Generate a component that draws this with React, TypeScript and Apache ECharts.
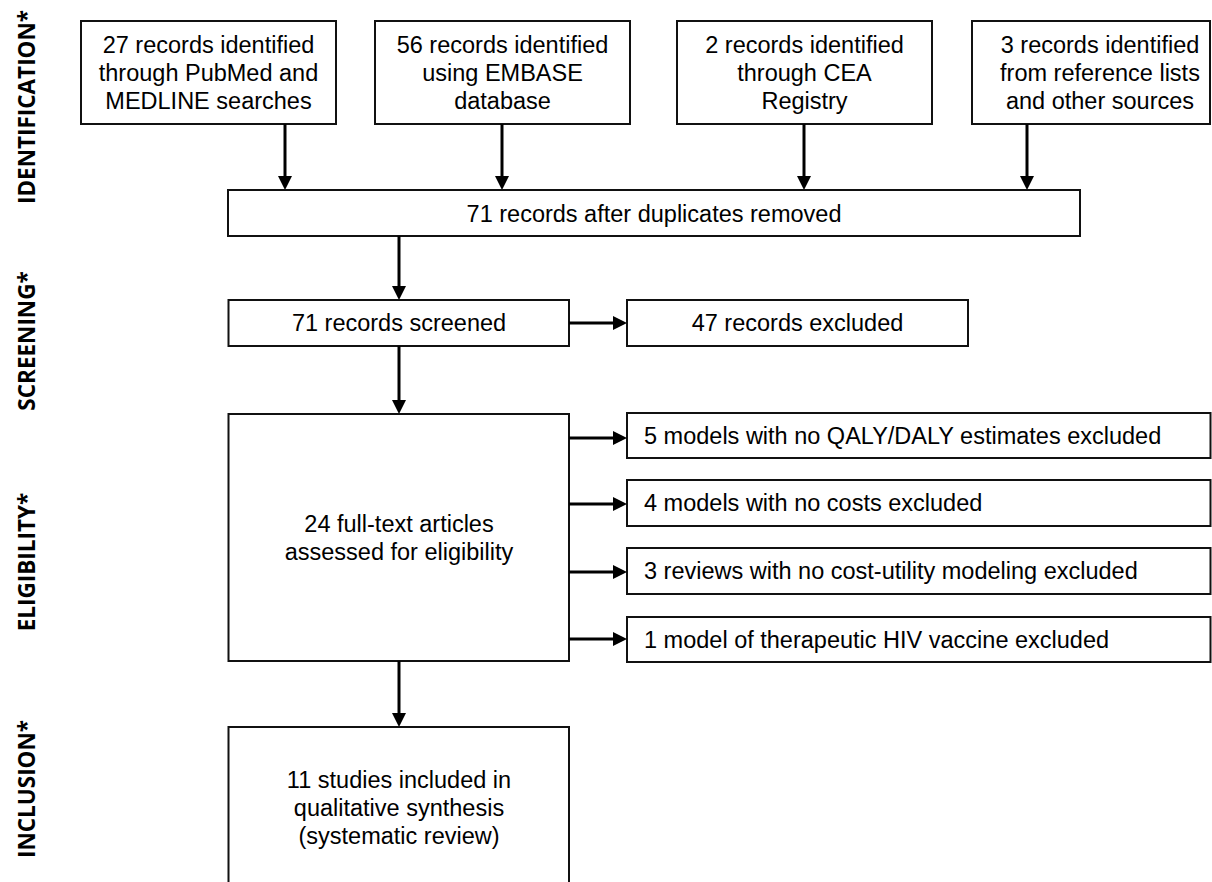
import React, { useEffect, useRef } from "react";
import * as echarts from "echarts";

// ---- data ----
const stageLabels = ["IDENTIFICATION*", "SCREENING*", "ELIGIBILITY*", "INCLUSION*"];
const sourceCounts = [27, 56, 2, 3];
const sourceTexts = [
  "records identified\nthrough PubMed and\nMEDLINE searches",
  "records identified\nusing EMBASE\ndatabase",
  "records identified\nthrough CEA\nRegistry",
  "records identified\nfrom reference lists\nand other sources",
];
const afterDuplicates = 71;
const screened = 71;
const screenExcluded = 47;
const fullText = 24;
const exclusionCounts = [5, 4, 3, 1];
const exclusionTexts = [
  "models with no QALY/DALY estimates excluded",
  "models with no costs excluded",
  "reviews with no cost-utility modeling excluded",
  "model of therapeutic HIV vaccine excluded",
];
const included = 11;

const FONT = "'Liberation Sans', Arial, sans-serif";
const FS = 23.5;
const LH = 28.3;
const STROKE = "#111";

function box(x1: number, y1: number, x2: number, y2: number) {
  return {
    type: "rect",
    shape: { x: x1, y: y1, width: x2 - x1, height: y2 - y1 },
    style: { fill: "#fff", stroke: STROKE, lineWidth: 2 },
  };
}
function ctext(x: number, y: number, t: string, align = "center") {
  return {
    type: "text",
    x,
    y,
    style: {
      text: t,
      font: `${FS}px ${FONT}`,
      fill: "#000",
      align,
      verticalAlign: "middle",
      lineHeight: LH,
    },
    z: 10,
  };
}
function arrowDown(x: number, y1: number, y2: number) {
  return [
    { type: "line", shape: { x1: x, y1, x2: x, y2: y2 - 10 }, style: { stroke: "#000", lineWidth: 3 } },
    { type: "polygon", shape: { points: [[x - 7, y2 - 14], [x + 7, y2 - 14], [x, y2]] }, style: { fill: "#000" } },
  ];
}
function arrowRight(y: number, x1: number, x2: number) {
  return [
    { type: "line", shape: { x1, y1: y, x2: x2 - 10, y2: y }, style: { stroke: "#000", lineWidth: 3 } },
    { type: "polygon", shape: { points: [[x2 - 14, y - 7], [x2 - 14, y + 7], [x2, y]] }, style: { fill: "#000" } },
  ];
}

export default function App() {
  const ref = useRef<HTMLDivElement>(null);
  useEffect(() => {
    document.body.style.margin = "0";
    if (!ref.current) return;
    const chart = echarts.init(ref.current, undefined, { renderer: "svg" });
    const els: any[] = [];

    // stage labels
    const stageY = [107, 341, 562, 789];
    stageLabels.forEach((s, i) => {
      els.push({
        type: "text",
        x: 26,
        y: stageY[i],
        rotation: Math.PI / 2,
        style: {
          text: s,
          font: `bold 22.5px 'Open Sans', sans-serif`,
          fill: "#000",
          align: "center",
          verticalAlign: "middle",
        },
      });
    });

    // top source boxes
    const topX = [[81, 336], [375, 630], [677, 932], [972, 1210]];
    const arrowX = [285, 502, 804, 1027];
    sourceCounts.forEach((c, i) => {
      const [a, b] = topX[i];
      els.push(box(a, 21, b, 124));
      els.push(ctext((a + b) / 2 + (i === 3 ? 9 : 0), 73, `${c} ${sourceTexts[i]}`));
      els.push(...arrowDown(arrowX[i], 124, 190));
    });

    // after duplicates
    els.push(box(228, 190, 1080, 236));
    els.push(ctext(654, 214, `${afterDuplicates} records after duplicates removed`));
    els.push(...arrowDown(399, 236, 300));

    // screening
    els.push(box(228.5, 300, 569, 346));
    els.push(ctext(399, 323, `${screened} records screened`));
    els.push(...arrowRight(323, 569, 627));
    els.push(box(627, 300, 968, 346));
    els.push(ctext(797.5, 323, `${screenExcluded} records excluded`));
    els.push(...arrowDown(399, 346, 414));

    // eligibility
    els.push(box(228.5, 414, 569, 661));
    els.push(ctext(399, 538, `${fullText} full-text articles\nassessed for eligibility`));
    const exY = [[413, 458], [480, 526], [548, 594], [617, 662]];
    const exArrowY = [438, 504, 572, 639];
    exclusionCounts.forEach((c, i) => {
      const [t, b] = exY[i];
      els.push(box(627, t, 1210.5, b));
      els.push(ctext(644, (t + b) / 2, `${c} ${exclusionTexts[i]}`, "left"));
      els.push(...arrowRight(exArrowY[i], 569, 627));
    });
    els.push(...arrowDown(399, 661, 727));

    // inclusion
    els.push(box(228.5, 727, 569, 892));
    els.push(ctext(399, 808, `${included} studies included in\nqualitative synthesis\n(systematic review)`));

    chart.setOption({
      animation: false,
      backgroundColor: "#fff",
      graphic: { elements: els },
    });
    return () => chart.dispose();
  }, []);
  return <div ref={ref} style={{ width: 1212, height: 882 }} />;
}
